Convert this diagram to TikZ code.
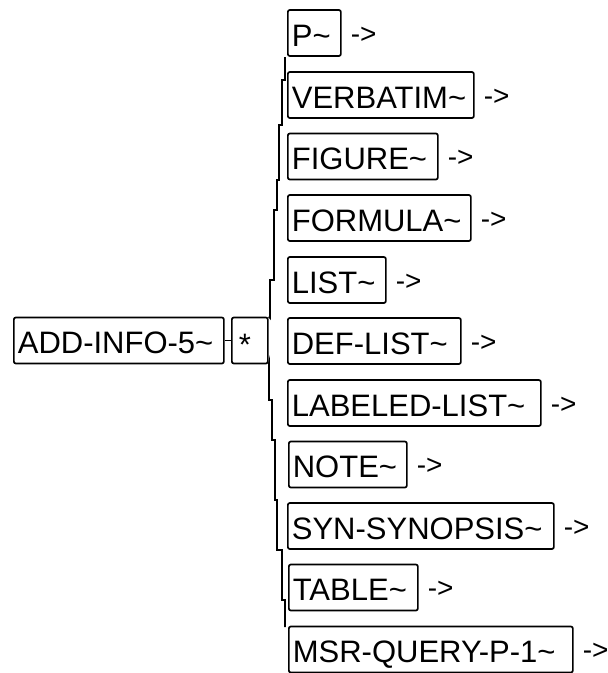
\documentclass[tikz,border=0pt]{standalone}
\usepackage{fontspec}
\setmainfont{Liberation Sans}
\begin{document}
\begin{tikzpicture}[x=1pt,y=-1pt,
  box/.style={draw=black,line width=1.7pt,rounded corners=2pt,rectangle,anchor=west,
    minimum height=46pt,inner xsep=4pt,inner ysep=0pt,align=left,
    font=\fontsize{31}{31}\selectfont,text height=26pt,text depth=0pt},
  arr/.style={anchor=west,inner sep=0pt,font=\fontsize{28}{28}\selectfont},
  bus/.style={line width=1.7pt,line join=miter}]
\useasboundingbox (0,0) rectangle (608,673);
\fill[white] (0,0) rectangle (608,673);
\node[box,text width=202pt] (add) at (13,340.5) {ADD-INFO-5\textasciitilde};
\node[box,text width=28pt,text height=30pt] (star) at (231,340.5) {\hspace{3pt}*};
\draw[line width=1.7pt] (add.east) -- (star.west);
% children
\node[box,text width=45pt] (p) at (287,33) {P\textasciitilde};
\node[box,text width=178pt] (verb) at (287,95) {VERBATIM\textasciitilde};
\node[box,text width=142pt] (fig) at (287,156.5) {FIGURE\textasciitilde};
\node[box,text width=175pt] (form) at (287,218) {FORMULA\textasciitilde};
\node[box,text width=90pt] (list) at (287,280) {LIST\textasciitilde};
\node[box,text width=165pt] (def) at (287,341) {DEF-LIST\textasciitilde};
\node[box,text width=245pt] (lab) at (287,403) {LABELED-LIST\textasciitilde};
\node[box,text width=110pt] (note) at (288,464.5) {NOTE\textasciitilde};
\node[box,text width=258pt] (syn) at (287,526) {SYN-SYNOPSIS\textasciitilde};
\node[box,text width=121pt] (table) at (288,587.5) {TABLE\textasciitilde};
\node[box,text width=276pt] (msr) at (288,649.5) {MSR-QUERY-P-1\textasciitilde};
% arrow texts
\foreach \n in {p,verb,fig,form,list,def,lab,note,syn,table,msr}{
  \node[arr] (a\n) at ([xshift=9pt,yshift=-2pt]\n.east) {->};
}
% bus
\draw[bus] (285,57) -- (285,80) -- (282,80) -- (282,125) -- (279,125) -- (279,180) -- (277,180) -- (277,210) -- (274,210) -- (274,280) -- (270,280) -- (270,318) -- (star.north east);
\draw[bus] (star.south east) -- (269,363) -- (269,400) -- (272,400) -- (272,440) -- (275,440) -- (275,500) -- (277,500) -- (277,550) -- (282,550) -- (282,600) -- (285,600) -- (285,627);
\end{tikzpicture}
\end{document}
